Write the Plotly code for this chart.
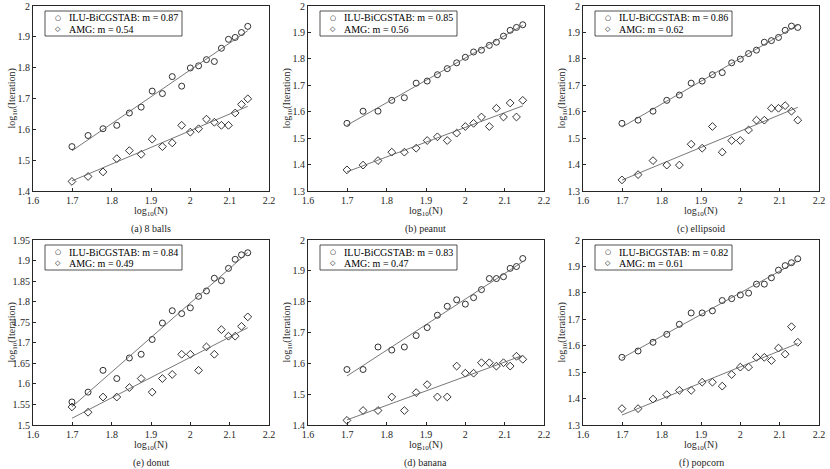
import numpy as np
import plotly.graph_objects as go

# log10(N) values, N = 50..140
log_n = [1.699, 1.740, 1.778, 1.813, 1.845, 1.875, 1.903, 1.929, 1.954, 1.978,
         2.000, 2.021, 2.041, 2.061, 2.079, 2.097, 2.114, 2.130, 2.146]

titles = ["(a) 8 balls", "(b) peanut", "(c) ellipsoid", "(e) donut", "(d) banana", "(f) popcorn"]
ilu_labels = ["ILU-BiCGSTAB: m = 0.87", "ILU-BiCGSTAB: m = 0.85", "ILU-BiCGSTAB: m = 0.86",
              "ILU-BiCGSTAB: m = 0.84", "ILU-BiCGSTAB: m = 0.83", "ILU-BiCGSTAB: m = 0.82"]
amg_labels = ["AMG: m = 0.54", "AMG: m = 0.56", "AMG: m = 0.62",
              "AMG: m = 0.49", "AMG: m = 0.47", "AMG: m = 0.61"]

ilu_balls = [1.544, 1.580, 1.602, 1.613, 1.653, 1.672, 1.724, 1.716, 1.771, 1.740,
             1.799, 1.806, 1.826, 1.820, 1.863, 1.892, 1.898, 1.914, 1.934]
amg_balls = [1.431, 1.447, 1.462, 1.505, 1.531, 1.519, 1.568, 1.544, 1.556, 1.613,
             1.591, 1.602, 1.633, 1.623, 1.613, 1.613, 1.653, 1.681, 1.699]
ilu_peanut = [1.556, 1.602, 1.602, 1.643, 1.653, 1.708, 1.716, 1.740, 1.763, 1.785,
              1.806, 1.826, 1.833, 1.851, 1.863, 1.886, 1.908, 1.919, 1.929]
amg_peanut = [1.380, 1.398, 1.415, 1.447, 1.447, 1.462, 1.491, 1.505, 1.491, 1.519,
              1.544, 1.556, 1.580, 1.544, 1.613, 1.580, 1.633, 1.580, 1.643]
ilu_ellipsoid = [1.556, 1.568, 1.602, 1.643, 1.663, 1.708, 1.716, 1.740, 1.748, 1.785,
                 1.799, 1.820, 1.833, 1.863, 1.869, 1.881, 1.908, 1.924, 1.919]
amg_ellipsoid = [1.342, 1.362, 1.415, 1.398, 1.398, 1.477, 1.462, 1.544, 1.447, 1.491,
                 1.491, 1.531, 1.568, 1.568, 1.613, 1.613, 1.623, 1.602, 1.568]
ilu_donut = [1.556, 1.580, 1.633, 1.613, 1.663, 1.672, 1.708, 1.748, 1.778, 1.771,
             1.785, 1.813, 1.826, 1.857, 1.851, 1.881, 1.903, 1.914, 1.919]
amg_donut = [1.544, 1.531, 1.568, 1.568, 1.591, 1.613, 1.580, 1.613, 1.623, 1.672,
             1.672, 1.633, 1.690, 1.672, 1.732, 1.716, 1.716, 1.740, 1.763]
ilu_banana = [1.580, 1.580, 1.653, 1.643, 1.653, 1.690, 1.716, 1.756, 1.785, 1.806,
              1.792, 1.813, 1.839, 1.875, 1.875, 1.881, 1.908, 1.914, 1.940]
amg_banana = [1.415, 1.447, 1.447, 1.491, 1.447, 1.505, 1.531, 1.491, 1.491, 1.591,
              1.568, 1.568, 1.602, 1.602, 1.591, 1.602, 1.591, 1.623, 1.613]
ilu_popcorn = [1.556, 1.580, 1.613, 1.643, 1.681, 1.724, 1.724, 1.732, 1.771, 1.778,
               1.792, 1.799, 1.833, 1.833, 1.857, 1.886, 1.903, 1.914, 1.929]
amg_popcorn = [1.362, 1.362, 1.398, 1.415, 1.431, 1.431, 1.462, 1.462, 1.447, 1.491,
               1.519, 1.519, 1.556, 1.556, 1.544, 1.591, 1.568, 1.672, 1.613]

ilu_all = [ilu_balls, ilu_peanut, ilu_ellipsoid, ilu_donut, ilu_banana, ilu_popcorn]
amg_all = [amg_balls, amg_peanut, amg_ellipsoid, amg_donut, amg_banana, amg_popcorn]

y_ranges = [[1.4, 2], [1.3, 2], [1.3, 2], [1.5, 1.95], [1.4, 2], [1.3, 2]]
y_dticks = [0.1, 0.1, 0.1, 0.05, 0.1, 0.1]

W, H = 830, 469
col_px = [(33, 269), (308, 544), (583, 819)]
row_px = [(6, 191), (240, 425)]

FONT = "Liberation Serif, Times New Roman, serif"
SYMFONT = "DejaVu Sans"
AX = "#262626"


def px(xp, yp):
    return xp / W, 1 - yp / H


fig = go.Figure()
layout = dict(width=W, height=H, margin=dict(l=0, r=0, t=0, b=0, autoexpand=False),
              template="none",
              paper_bgcolor="white", plot_bgcolor="white",
              font=dict(family=FONT, size=10, color=AX), showlegend=False)
annotations = []
shapes = []

for i in range(6):
    r, c = divmod(i, 3)
    idx = "" if i == 0 else str(i + 1)
    xa, ya = "x" + idx, "y" + idx
    x0, x1 = col_px[c]
    yt, yb = row_px[r]
    layout["xaxis" + idx] = dict(domain=[x0 / W, x1 / W], range=[1.6, 2.2], dtick=0.1, tick0=1.6,
                                 anchor=ya, showline=True, mirror=True, linecolor=AX, linewidth=0.8,
                                 ticks="inside", ticklen=3, tickcolor=AX, showgrid=False, zeroline=False,
                                 automargin=False,
                                 tickfont=dict(size=10, family=FONT, color=AX))
    layout["yaxis" + idx] = dict(domain=[1 - yb / H, 1 - yt / H], range=y_ranges[i], dtick=y_dticks[i],
                                 tick0=y_ranges[i][0],
                                 anchor=xa, showline=True, mirror=True, linecolor=AX, linewidth=0.8,
                                 ticks="inside", ticklen=3, tickcolor=AX, showgrid=False, zeroline=False,
                                 automargin=False,
                                 tickfont=dict(size=10, family=FONT, color=AX))
    for ys, lab, sym in [(ilu_all[i], ilu_labels[i], "circle-open"), (amg_all[i], amg_labels[i], "diamond-open")]:
        fig.add_trace(go.Scatter(x=log_n, y=ys, mode="markers", name=lab, xaxis=xa, yaxis=ya,
                                 marker=dict(symbol=sym, size=6, color="black", line=dict(width=0.8, color="black"))))
        m, b = np.polyfit(log_n, ys, 1)
        xs = [log_n[0], log_n[-1]]
        fig.add_trace(go.Scatter(x=xs, y=[m * v + b for v in xs], mode="lines", showlegend=False,
                                 xaxis=xa, yaxis=ya, line=dict(color="#555555", width=0.8)))

    # legend box (drawn as shape + text)
    lx0, ly0 = x0 + 12, yt + 5
    lx1, ly1 = lx0 + 137, ly0 + 25
    bx0, by0 = px(lx0, ly0)
    bx1, by1 = px(lx1, ly1)
    shapes.append(dict(type="rect", xref="paper", yref="paper", x0=bx0, x1=bx1, y0=by1, y1=by0,
                       line=dict(color=AX, width=0.8), fillcolor="white", layer="above"))
    for k, (lab, glyph) in enumerate([(ilu_labels[i], "○"), (amg_labels[i], "◇")]):
        rowy = ly0 + 7 + k * 11
        gx, gy = px(lx0 + 13, rowy)
        annotations.append(dict(text=glyph, x=gx, y=gy, xref="paper", yref="paper", showarrow=False,
                                xanchor="center", yanchor="middle",
                                font=dict(size=7, family=SYMFONT, color="black")))
        tx, ty = px(lx0 + 22, rowy)
        annotations.append(dict(text=lab, x=tx, y=ty, xref="paper", yref="paper", showarrow=False,
                                xanchor="left", yanchor="middle",
                                font=dict(size=10, family=FONT, color="black")))

    xc = (x0 + x1) / 2
    annotations.append(dict(text="log<sub>10</sub>(N)", x=xc / W, y=1 - (yb + 20) / H, xref="paper", yref="paper",
                            xanchor="center", yanchor="middle",
                            showarrow=False, font=dict(size=10, family=FONT, color=AX)))
    annotations.append(dict(text=titles[i], x=xc / W, y=1 - (yb + 38) / H, xref="paper", yref="paper",
                            xanchor="center", yanchor="middle",
                            showarrow=False, font=dict(size=10, family=FONT, color=AX)))
    annotations.append(dict(text="log<sub>10</sub>(Iteration)", x=(x0 - 21) / W, y=1 - (yt + yb) / 2 / H,
                            xref="paper", yref="paper", textangle=-90, showarrow=False,
                            xanchor="center", yanchor="middle",
                            font=dict(size=10, family=FONT, color=AX)))

layout["annotations"] = annotations
layout["shapes"] = shapes
fig.update_layout(**layout)
fig.write_html("out.html", config={"displayModeBar": False},
               post_script="document.body.style.margin='0';")
